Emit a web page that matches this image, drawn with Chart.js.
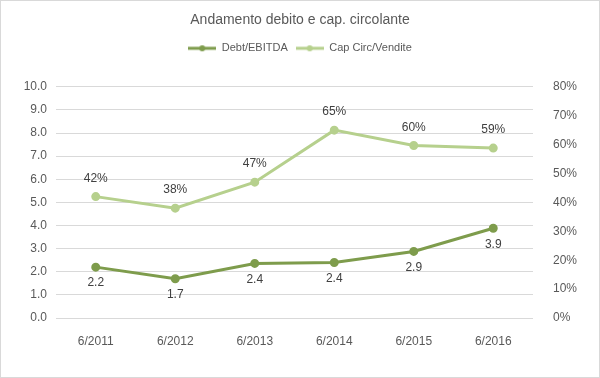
<!DOCTYPE html>
<html>
<head>
<meta charset="utf-8">
<script src="https://cdn.jsdelivr.net/npm/chart.js@4"></script>
<style>
  body { margin: 0; background: #fff; }
  #wrap { width: 600px; height: 378px; }
</style>
</head>
<body>
<div id="wrap"><canvas id="chart" width="600" height="378"></canvas></div>
<script>
// dati
const years = ['6/2011', '6/2012', '6/2013', '6/2014', '6/2015', '6/2016'];
const debtEbitda = [2.2, 1.7, 2.36, 2.4, 2.88, 3.88];
const capCirc = [0.42, 0.38, 0.47, 0.65, 0.597, 0.588];
const leftTicks = [0, 10, 1];      // min, max, passo
const rightTicks = [0, 0.8, 0.1];

const darkGreen = '#7e9c4c';
const lightGreen = '#b6d08d';
const textGray = '#595959';
const font = 'Liberation Sans, Arial, sans-serif';

// icona legenda: linea con pallino
function legendIcon(color) {
  const c = document.createElement('canvas');
  c.width = 28; c.height = 8;
  const ctx = c.getContext('2d');
  ctx.strokeStyle = color;
  ctx.lineWidth = 3;
  ctx.beginPath(); ctx.moveTo(0, 4); ctx.lineTo(28, 4); ctx.stroke();
  ctx.fillStyle = color;
  ctx.beginPath(); ctx.arc(14, 4, 3, 0, Math.PI * 2); ctx.fill();
  return c;
}

// etichette dei valori, bordo e spazio sotto la legenda
const extras = {
  id: 'extras',
  afterInit(chart) {
    const fit = chart.legend.fit;
    chart.legend.fit = function () { fit.call(this); this.height += 23; };
  },
  beforeDraw(chart) {
    const ctx = chart.ctx;
    ctx.save();
    ctx.strokeStyle = '#d9d9d9';
    ctx.lineWidth = 1;
    ctx.strokeRect(0.5, 0.5, chart.width - 1, chart.height - 1);
    ctx.restore();
  },
  afterDatasetsDraw(chart) {
    const ctx = chart.ctx;
    ctx.save();
    ctx.font = '12px ' + font;
    ctx.fillStyle = '#404040';
    ctx.textAlign = 'center';
    ctx.textBaseline = 'middle';
    chart.getDatasetMeta(0).data.forEach((p, i) => {
      ctx.fillText(debtEbitda[i].toFixed(1), p.x, p.y + 16);
    });
    chart.getDatasetMeta(1).data.forEach((p, i) => {
      ctx.fillText(Math.round(capCirc[i] * 100) + '%', p.x, p.y - 18);
    });
    ctx.restore();
  }
};

new Chart(document.getElementById('chart'), {
  type: 'line',
  data: {
    labels: years,
    datasets: [{
      label: 'Debt/EBITDA',
      data: debtEbitda,
      borderColor: darkGreen,
      backgroundColor: darkGreen,
      borderWidth: 3,
      pointRadius: 3,
      yAxisID: 'y'
    }, {
      label: 'Cap Circ/Vendite',
      data: capCirc,
      borderColor: lightGreen,
      backgroundColor: lightGreen,
      borderWidth: 3,
      pointRadius: 3,
      yAxisID: 'y2'
    }]
  },
  options: {
    responsive: false,
    animation: false,
    layout: { padding: 0 },
    plugins: {
      title: {
        display: true,
        text: 'Andamento debito e cap. circolante',
        color: textGray,
        font: { family: font, size: 14, weight: 'normal' },
        padding: { top: 12, bottom: 6 }
      },
      legend: {
        labels: {
          color: textGray,
          font: { family: font, size: 11 },
          usePointStyle: true,
          pointStyleWidth: 28,
          boxHeight: 8,
          padding: 8,
          generateLabels: (chart) => chart.data.datasets.map((d, i) => ({
            text: d.label,
            pointStyle: legendIcon(d.borderColor),
            fillStyle: d.borderColor,
            strokeStyle: d.borderColor,
            lineWidth: 0,
            fontColor: textGray,
            datasetIndex: i
          }))
        }
      },
      tooltip: { enabled: false }
    },
    scales: {
      x: {
        offset: true,
        grid: { display: false },
        border: { display: false },
        ticks: { color: textGray, font: { family: font, size: 12 }, padding: 8 },
        afterFit: (s) => { s.height = 60; }
      },
      y: {
        position: 'left',
        min: leftTicks[0], max: leftTicks[1],
        grid: { color: '#d9d9d9', drawTicks: false },
        border: { display: false },
        ticks: { stepSize: leftTicks[2], color: textGray, font: { family: font, size: 12 }, padding: 9,
          callback: (v) => v.toFixed(1) },
        afterFit: (s) => { s.width = 56; }
      },
      y2: {
        position: 'right',
        min: rightTicks[0], max: rightTicks[1],
        grid: { display: false },
        border: { display: false },
        ticks: { stepSize: rightTicks[2], color: textGray, font: { family: font, size: 12 }, padding: 12,
          callback: (v) => Math.round(v * 100) + '%' },
        afterFit: (s) => { s.width = 67; }
      }
    }
  },
  plugins: [extras]
});
</script>
</body>
</html>
